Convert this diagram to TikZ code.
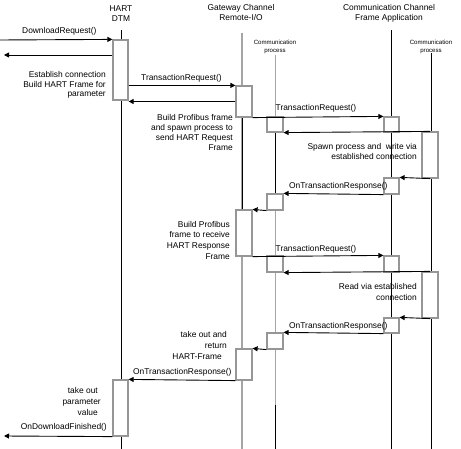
\documentclass[tikz,border=0pt]{standalone}
\usepackage{fontspec}
\setmainfont{Liberation Sans}
\usetikzlibrary{arrows.meta,fit}
\definecolor{boxgray}{RGB}{150,150,150}
\definecolor{lifegray}{RGB}{165,165,165}
\begin{document}
\begin{tikzpicture}[x=1bp,y=-1bp,
  txt/.style={font=\fontsize{8.4bp}{10bp}\selectfont, inner sep=0pt},
  lbl/.style={txt, align=right, anchor=base east},
  mlbl/.style={txt, anchor=base west},
  hdr/.style={txt, align=center, anchor=base},
  small/.style={font=\fontsize{6.1bp}{7.5bp}\selectfont, inner sep=0pt, align=center, anchor=base},
  actbox/.style={draw=boxgray, fill=white, line width=1.2bp, inner sep=0pt},
  msg/.style={draw=black, line width=0.9bp, -{Triangle[length=5bp,width=5bp]}},
  life/.style={draw=black, line width=1bp},
  lifeg/.style={draw=lifegray, line width=1.5bp}]
\useasboundingbox (0,0) rectangle (461,449);

% headers (base = baseline of last line)
\node[hdr] (hdtm) at (121,22) {HART\\DTM};
\node[hdr] (hgw) at (241,21) {Gateway Channel\\Remote-I/O};
\node[hdr] (hfa) at (389,21) {Communication Channel\\Frame Application};
\node[small] (hcp1) at (275,52.5) {Communication\\process};
\node[small] (hcp2) at (431,52.5) {Communication\\process};

% lifeline end points
\coordinate (dtmtop) at (121,30);  \coordinate (dtmbot) at (121,449);
\coordinate (gwtop) at (242,33);   \coordinate (gwbot) at (242,449);
\coordinate (gwb1) at (242,117);   \coordinate (gwb2) at (242,210);
\coordinate (cptop) at (275.5,55); \coordinate (cpbot) at (275.5,449);
\coordinate (cpb1) at (275.5,132); \coordinate (cpb2) at (275.5,194);
\coordinate (cpb3) at (275.5,405);
\coordinate (fatop) at (391,30);   \coordinate (fabot) at (391,449);
\coordinate (rptop) at (431,53);   \coordinate (rpbot) at (431,449);

\draw[life] (dtmtop) -- (dtmbot);
\draw[lifeg] (gwtop) -- (gwbot);
\draw[life] (gwb1) -- (gwb2);
\draw[lifeg] (cptop) -- (cpbot);
\draw[life] (cpb1) -- (cpb2);
\draw[life] (cpb3) -- (cpbot);
\draw[life] (fatop) -- (fabot);
\draw[life] (rptop) -- (rpbot);

% activation boxes
\node[actbox, fit={(113,40) (128,100)}] (d1) {};
\node[actbox, fit={(113,380) (128,436)}] (d2) {};
\node[actbox, fit={(236,86) (252,117)}] (g1) {};
\node[actbox, fit={(236,210) (252,256)}] (g2) {};
\node[actbox, fit={(236,349) (252,380)}] (g3) {};
\node[actbox, fit={(267,117) (283,132)}] (c1) {};
\node[actbox, fit={(267,194) (283,210)}] (c2) {};
\node[actbox, fit={(267,256) (283,272)}] (c3) {};
\node[actbox, fit={(267,333) (283,349)}] (c4) {};
\node[actbox, fit={(384,117) (399,132)}] (f1) {};
\node[actbox, fit={(384,178) (399,194)}] (f2) {};
\node[actbox, fit={(384,256) (399,272)}] (f3) {};
\node[actbox, fit={(384,318) (399,333)}] (f4) {};
\node[actbox, fit={(422,132) (438,178)}] (r1) {};
\node[actbox, fit={(422,272) (438,318)}] (r2) {};

% free ends
\coordinate (dlsrc) at (0,40);
\coordinate (ret1) at (4,55);
\coordinate (fin) at (4,436);

% messages
\draw[msg] (dlsrc) -- (d1.north west);
\draw[msg] (d1.west |- ret1) -- (ret1);
\draw[msg] (d1.east |- g1.north) -- (g1.north west);
\draw[msg] (g1.west) -- (g1.west -| d1.east);
\draw[msg] (g1.south east) -- (f1.north west);
\draw[msg] (r1.north) -- (c1.south east);
\draw[msg] (r1.south) -- (f2.north east);
\draw[msg] (f2.south west) -- (c2.north east);
\draw[msg] (c2.south west) -- (g2.north east);
\draw[msg] (g2.south east) -- (f3.north west);
\draw[msg] (r2.north) -- (c3.south east);
\draw[msg] (r2.south) -- (f4.north east);
\draw[msg] (f4.south west) -- (c4.north east);
\draw[msg] (c4.south west) -- (g3.north east);
\draw[msg] (g3.south west) -- (d2.north east);
\draw[msg] (d2.south west) -- (fin);

% message labels
\node[mlbl] (m1) at (22,33.5) {DownloadRequest()};
\node[mlbl] (m2) at (141,81) {TransactionRequest()};
\node[mlbl] (m3) at (275.5,111) {TransactionRequest()};
\node[mlbl] (m4) at (289,189) {OnTransactionResponse()};
\node[mlbl] (m5) at (275.5,251) {TransactionRequest()};
\node[mlbl] (m6) at (289,328) {OnTransactionResponse()};
\node[mlbl] (m7) at (133,374) {OnTransactionResponse()};
\node[mlbl] (m8) at (20.7,429) {OnDownloadFinished()};

% notes (base = baseline of last line)
\node[lbl, font=\fontsize{8.4bp}{9.6bp}\selectfont] (n1) at (106,97) {Establish connection\\Build HART Frame for\\parameter};
\node[lbl] (n2) at (233,151) {Build Profibus frame\\and spawn process to\\send HART Request\\Frame};
\node[lbl] (n3) at (417,160) {Spawn process and \ write via\\established connection};
\node[lbl, font=\fontsize{8.4bp}{10.6bp}\selectfont] (n4) at (230,259) {Build Profibus\\frame to receive\\HART Response\\Frame};
\node[lbl, font=\fontsize{8.4bp}{11bp}\selectfont] (n5) at (417,300) {Read via established\\connection};
\node[lbl, font=\fontsize{8.4bp}{11bp}\selectfont] (n6) at (227,359) {take out and\\return\hspace*{5bp}\\HART-Frame\hspace*{5bp}};
\node[lbl, font=\fontsize{8.4bp}{10.6bp}\selectfont] (n7) at (101,415) {take out\hspace*{3bp}\\parameter\\value\hspace*{3bp}};
\end{tikzpicture}
\end{document}
